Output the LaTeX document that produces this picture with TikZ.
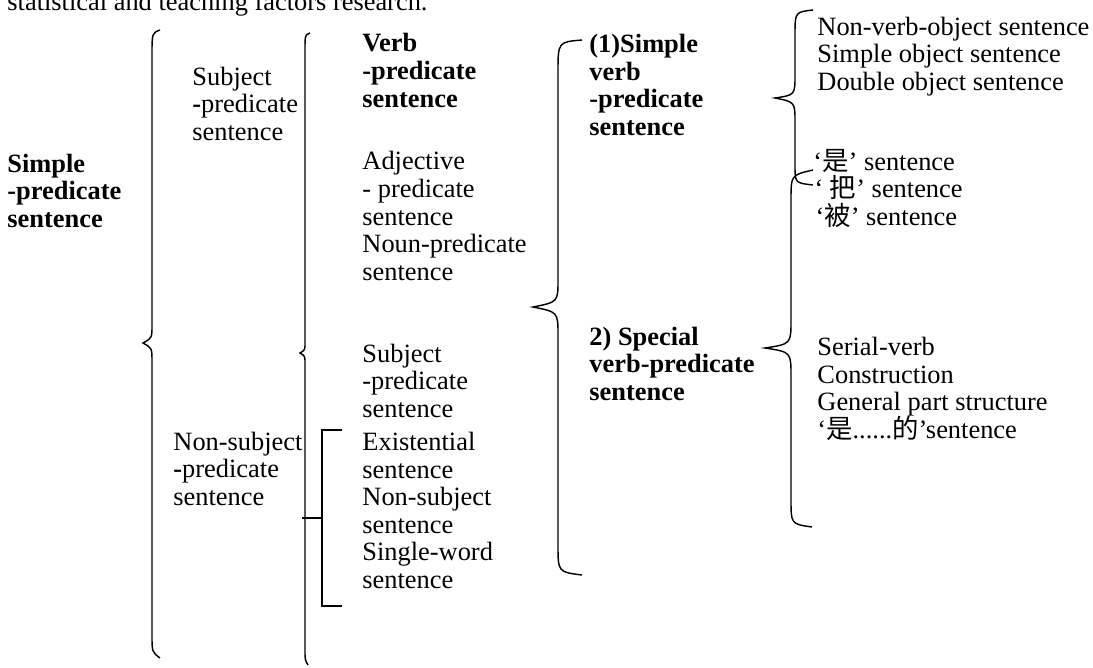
\documentclass[tikz,border=0pt]{standalone}
\usepackage{fontspec}
\setmainfont{Liberation Serif}
\newfontfamily\cjk{Noto Sans CJK SC}
\newcommand{\zh}[1]{\smash{\cjk #1}}
\tikzset{
  sent/.style={anchor=base west,align=left,inner sep=0pt,font=\fontsize{12}{12.5}\selectfont},
  bsent/.style={sent,font=\fontsize{12}{12.5}\selectfont\bfseries},
  brc/.style={line width=0.65pt},
}
\begin{document}
\begin{tikzpicture}[x=0.4545pt,y=-0.4545pt]
        \useasboundingbox(0,0)rectangle(1093,667);
        % base = last line
        \node[sent](1)at(7,10){statistical and teaching factors research.};
        \node[bsent](2)at(7,227){Simple\\-predicate\\sentence};
        \node[sent](3)at(192,140){Subject\\\textbf{-}predicate\\sentence};
        \node[sent](4)at(173,505){Non-subject\\\textbf{-}predicate\\sentence};
        \node[bsent](5)at(362,107){Verb\\-predicate\\sentence};
        \node[sent](6)at(362,280){Adjective\\- predicate\\sentence\\Noun-predicate\\sentence};
        \node[sent](7)at(362,417){Subject\\-predicate\\sentence};
        \node[sent](8)at(362,588){Existential\\sentence\\Non-subject\\sentence\\Single-word\\sentence};
        \node[bsent](9)at(589,135){(1)Simple\\verb\\-predicate\\sentence};
        \node[bsent](10)at(589,400){2) Special\\verb-predicate\\sentence};
        \node[sent](11)at(817,90){Non-verb-object sentence\\Simple object sentence\\Double object sentence};
        \node[sent](12)at(813,225){‘\zh{是}’ sentence\\\hspace{0.5pt}‘ \zh{把}’ sentence\\\hspace{1pt}‘\zh{被}’ sentence};
        \node[sent](13)at(817,438){Serial-verb\\Construction\\General part structure\\‘\zh{是}......\zh{的}’sentence};
        % braces
        \draw[brc](160,30)..controls(152,33)..(152,55)--(152,325)..controls(152,338)..(143,343)..controls(152,348)..(152,362)--(152,635)..controls(152,652)..(160,658);
        \draw[brc](310,33)..controls(305,35)..(305,50)--(305,343)..controls(305,350)..(300,353)..controls(305,356)..(305,363)--(305,650)..controls(305,660)..(308,665);
        \draw[brc](582,40)..controls(558,42)..(558,72)--(558,280)..controls(558,302)..(533,307)..controls(558,312)..(558,335)--(558,545)..controls(558,572)..(582,575);
        \draw[brc](813,10)..controls(795,12)..(795,35)--(795,75)..controls(795,95)..(775,98)..controls(795,102)..(795,122)--(795,165)..controls(795,183)..(813,185);
        \draw[brc](813,170)..controls(791,175)..(791,200)--(791,320)..controls(791,344)..(765,348)..controls(791,352)..(791,376)--(791,500)..controls(791,524)..(812,527);
        % bracket
        \draw[line width=0.7pt](342,430)--(322,430)--(322,606)--(342,606);
        \draw[line width=1.2pt](302,518)--(322,518);
    \end{tikzpicture}
\end{document}
